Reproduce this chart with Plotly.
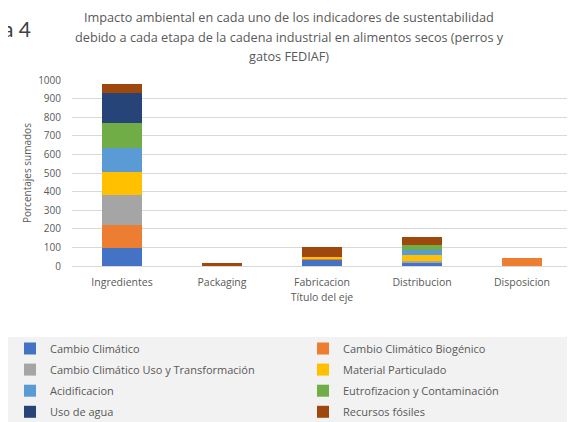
import plotly.graph_objects as go

categories = ["Ingredientes", "Packaging", "Fabricacion", "Distribucion", "Disposicion"]
series_names = [
    "Cambio Climático",
    "Cambio Climático Biogénico",
    "Cambio Climático Uso y Transformación",
    "Material Particulado",
    "Acidificacion",
    "Eutrofizacion y Contaminación",
    "Uso de agua",
    "Recursos fósiles",
]
cambio_climatico = [99, 0, 34, 18, 0]
cambio_biogenico = [124, 0, 4, 3, 42]
cambio_uso = [158, 0, 3, 5, 0]
material_particulado = [125, 0, 5, 31, 0]
acidificacion = [131, 0, 0, 27, 0]
eutrofizacion = [130, 0, 0, 31, 0]
uso_agua = [163, 0, 0, 0, 0]
recursos_fosiles = [47, 15, 55, 41, 0]
series_values = [cambio_climatico, cambio_biogenico, cambio_uso, material_particulado,
                 acidificacion, eutrofizacion, uso_agua, recursos_fosiles]
colors = ["#4472C4", "#ED7D31", "#A5A5A5", "#FFC000", "#5B9BD5", "#70AD47", "#264478", "#9E480E"]
y_ticks = [0, 100, 200, 300, 400, 500, 600, 700, 800, 900, 1000]

FONT = "Open Sans"
GREY = "#595959"

fig = go.Figure()
for i, (name, vals, col) in enumerate(zip(series_names, series_values, colors)):
    fig.add_trace(go.Bar(
        x=categories, y=vals, name=name, marker_color=col,
        marker_line_width=0,
        legend="legend" if i % 2 == 0 else "legend2",
        legendgroup=name,
    ))

# the page adds an 8px body margin, so the figure is drawn 8px in from the corner
OFF = 8
W, H = 575 - OFF, 422 - OFF
L, R, T, B = 72 - OFF, 3, 80 - OFF, 156
pw, ph = W - L - R, H - T - B


def px_x(x):
    return (x - OFF - L) / pw


def px_y(y):
    return (H - B - (y - OFF)) / ph


legend_common = dict(
    orientation="v", xref="container", yref="container", yanchor="top", xanchor="left",
    font=dict(family=FONT, size=11, color=GREY), bgcolor="rgba(0,0,0,0)",
    traceorder="grouped", tracegroupgap=2.1, itemwidth=30,
)

fig.update_layout(
    width=W, height=H,
    margin=dict(l=L, r=R, t=T, b=B, autoexpand=False),
    paper_bgcolor="white", plot_bgcolor="white",
    barmode="stack", bargap=0.6,
    font=dict(family=FONT, size=10, color=GREY),
    showlegend=True,
    legend=dict(legend_common, x=2 / W, y=1 - 326 / H),
    legend2=dict(legend_common, x=295 / W, y=1 - 326 / H),
    xaxis=dict(
        title=dict(text="Título del eje", font=dict(size=10.5, color=GREY), standoff=6),
        tickfont=dict(size=10.5, color=GREY), showline=True, linecolor="#d9d9d9",
        ticks="outside", ticklen=6, tickcolor="rgba(0,0,0,0)", showgrid=False,
        automargin=True,
    ),
    yaxis=dict(
        range=[0, 1000], tickvals=y_ticks, showgrid=True, gridcolor="#d9d9d9",
        zeroline=False, showline=False, automargin=True,
        ticks="outside", ticklen=8, tickcolor="rgba(0,0,0,0)",
        tickfont=dict(size=10, color=GREY),
    ),
    shapes=[dict(
        type="rect", xref="paper", yref="paper", layer="below",
        x0=px_x(0), x1=px_x(580), y0=px_y(430), y1=px_y(337),
        fillcolor="#f2f2f2", line_width=0,
    )],
)

# y-axis title
fig.add_annotation(
    text="Porcentajes sumados", xref="paper", yref="paper", x=px_x(27), y=0.5,
    xanchor="center", yanchor="middle", textangle=-90, showarrow=False,
    font=dict(family=FONT, size=10, color=GREY),
)

title_lines = [
    "Impacto ambiental en cada uno de los indicadores de sustentabilidad",
    "debido a cada etapa de la cadena industrial en alimentos secos (perros y",
    "gatos FEDIAF)",
]
for k, line in enumerate(title_lines):
    fig.add_annotation(
        text=line, xref="paper", yref="paper", x=px_x(289), y=px_y(17 + 19.5 * k),
        xanchor="center", yanchor="middle", showarrow=False,
        font=dict(family=FONT, size=12.7, color=GREY),
    )

fig.add_annotation(
    text="Figura 4", xref="paper", yref="paper", x=px_x(33), y=px_y(28),
    xanchor="right", yanchor="middle", showarrow=False,
    font=dict(family="Lato", size=21, color="#404040"),
)

fig.write_html("out.html")
